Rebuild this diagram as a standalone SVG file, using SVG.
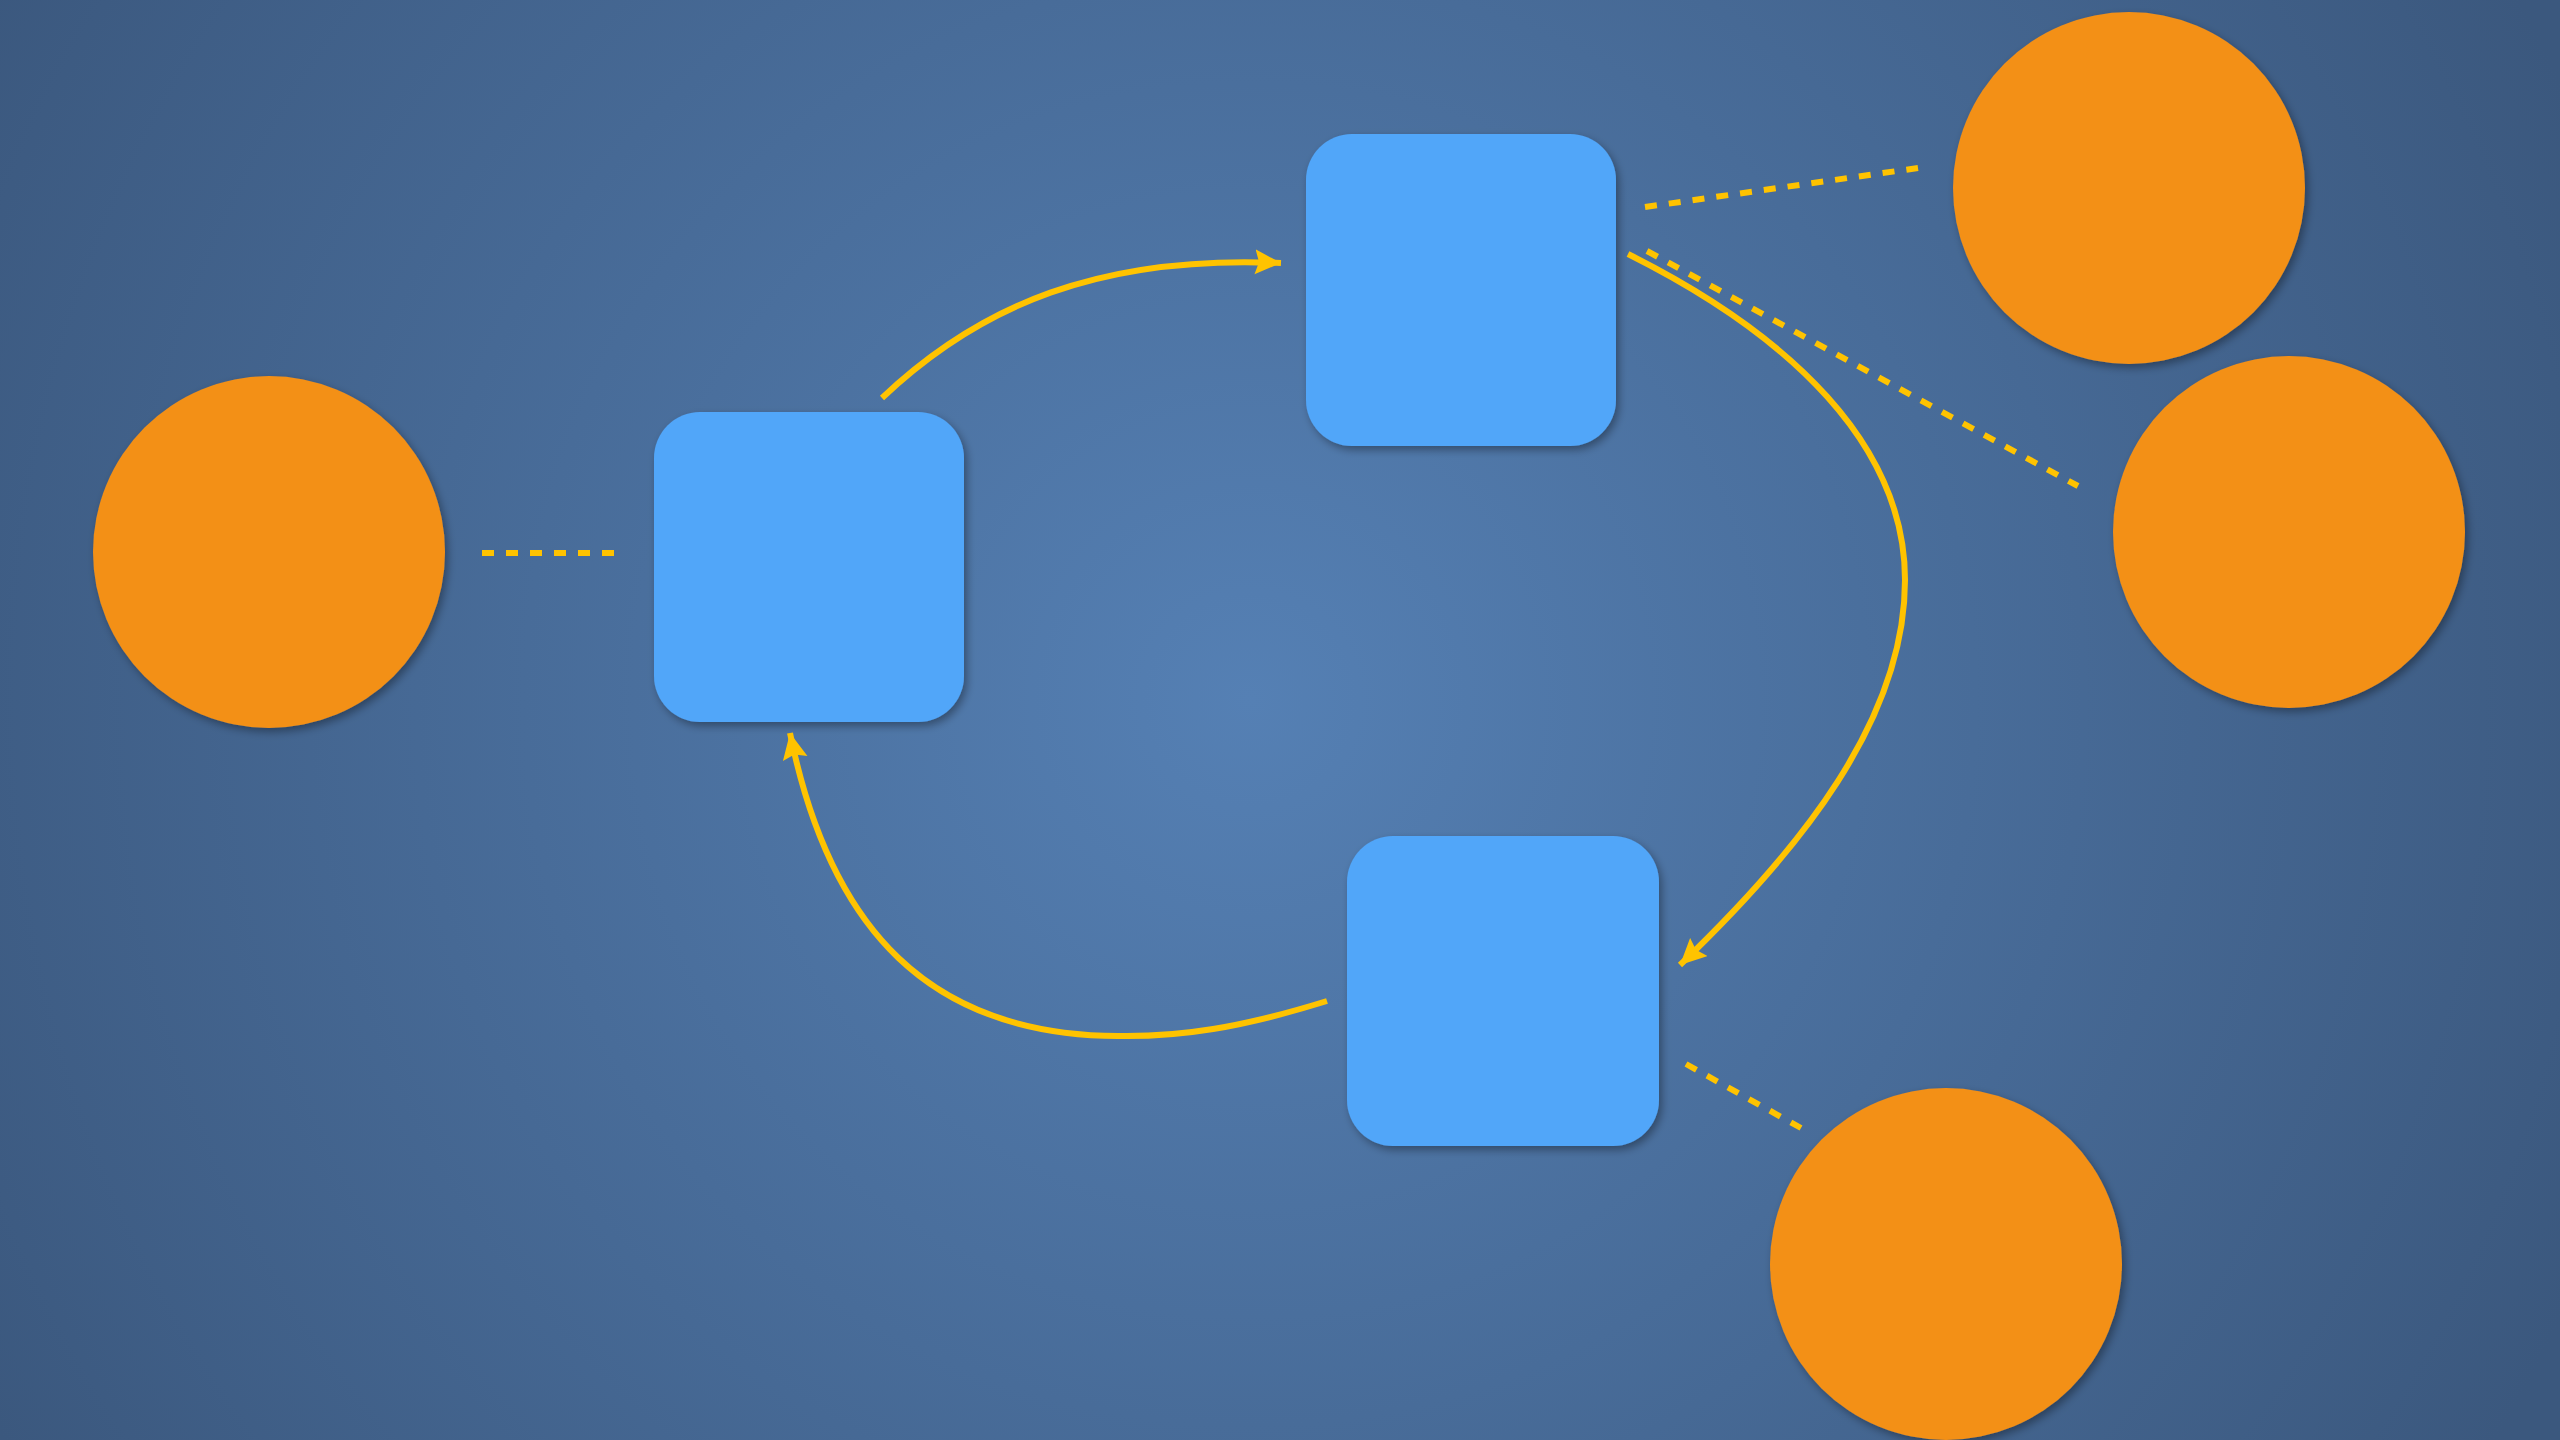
<svg xmlns="http://www.w3.org/2000/svg" width="2560" height="1440" viewBox="0 0 2560 1440">
<defs>
<radialGradient id="bg" cx="1250" cy="700" r="1450" gradientUnits="userSpaceOnUse">
<stop offset="0" stop-color="#5580b4"/>
<stop offset="1" stop-color="#3b587e"/>
</radialGradient>
<filter id="sh" x="-20%" y="-20%" width="140%" height="140%">
<feDropShadow dx="3" dy="4" stdDeviation="4" flood-color="#000" flood-opacity="0.35"/>
</filter>
<marker id="ah" markerUnits="userSpaceOnUse" markerWidth="30" markerHeight="28" refX="26" refY="12.5" orient="auto">
<path d="M0,0 L26,12.5 L0,25 L4,12.5 z" fill="#ffc300"/>
</marker>
<style>
.sq{fill:#51a6f9;filter:url(#sh)}
.ci{fill:#f39019;filter:url(#sh)}
.dash{stroke:#ffc300;stroke-width:6;stroke-dasharray:12 12;fill:none}
.arc{stroke:#ffc300;stroke-width:6;fill:none;marker-end:url(#ah)}
</style>
</defs>
<rect width="2560" height="1440" fill="url(#bg)"/>
<g id="connectors">
<line class="dash" x1="482" y1="553" x2="614" y2="553"/>
<line class="dash" x1="1645" y1="207" x2="1918" y2="168"/>
<line class="dash" x1="1647" y1="251" x2="2078" y2="486"/>
<line class="dash" x1="1686" y1="1064" x2="1801" y2="1128"/>
<path class="arc" d="M882,398 C980,305 1100,255 1281,263"/>
<path class="arc" d="M1628,254 C1790,335 1905,445 1905,580 C1905,720 1800,850 1680,965"/>
<path class="arc" d="M1327,1001 C1240,1028 1180,1037 1118,1036 C930,1035 830,930 790,733"/>
</g>
<g id="square-left"><rect class="sq" x="654" y="412" width="310" height="310" rx="46"/></g>
<g id="square-top"><rect class="sq" x="1306" y="134" width="310" height="312" rx="46"/></g>
<g id="square-bottom"><rect class="sq" x="1347" y="836" width="312" height="310" rx="46"/></g>
<g id="circle-left"><circle class="ci" cx="269" cy="552" r="176"/></g>
<g id="circle-topright"><circle class="ci" cx="2129" cy="188" r="176"/></g>
<g id="circle-right"><circle class="ci" cx="2289" cy="532" r="176"/></g>
<g id="circle-bottom"><circle class="ci" cx="1946" cy="1264" r="176"/></g>
</svg>
